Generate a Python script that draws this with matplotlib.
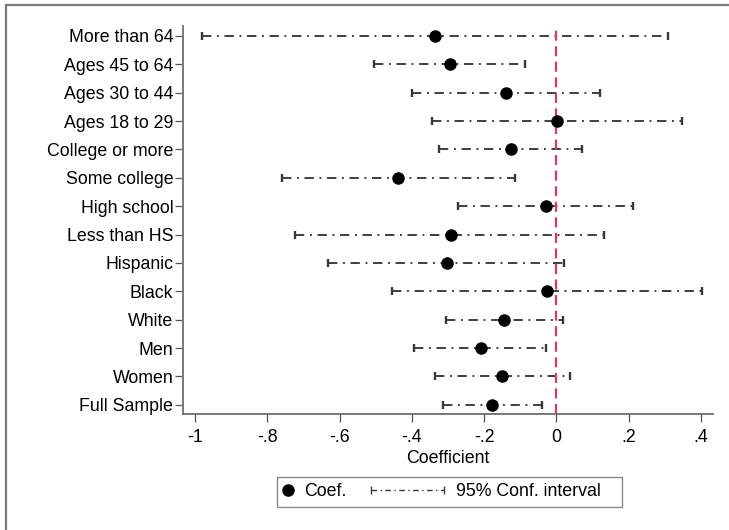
import matplotlib
matplotlib.use("Agg")
import matplotlib.pyplot as plt
from matplotlib.lines import Line2D
from matplotlib.legend_handler import HandlerBase

plt.rcParams['font.family'] = ['Liberation Sans', 'DejaVu Sans']

# subgroup estimates, top to bottom as listed on the axis
groups = ["More than 64", "Ages 45 to 64", "Ages 30 to 44", "Ages 18 to 29",
          "College or more", "Some college", "High school", "Less than HS",
          "Hispanic", "Black", "White", "Men", "Women", "Full Sample"]
coef = [-0.336, -0.295, -0.139, 0.002, -0.126, -0.437, -0.029, -0.293,
        -0.304, -0.025, -0.144, -0.210, -0.150, -0.178]
ci_low = [-0.980, -0.504, -0.399, -0.343, -0.326, -0.760, -0.271, -0.722,
          -0.631, -0.454, -0.306, -0.394, -0.337, -0.314]
ci_high = [0.308, -0.088, 0.121, 0.346, 0.070, -0.114, 0.212, 0.132,
           0.022, 0.403, 0.018, -0.028, 0.037, -0.041]
xticks = [-1, -0.8, -0.6, -0.4, -0.2, 0, 0.2, 0.4]
xticklabels = ["-1", "-.8", "-.6", "-.4", "-.2", "0", ".2", ".4"]

FS = 12.8
ci_color = "#383838"
dash = (0, (5, 3, 1, 3))


class CIHandler(HandlerBase):
    # long dash-dot key with caps, drawn leftwards from the text
    def create_artists(self, legend, orig_handle, xdescent, ydescent,
                       width, height, fontsize, trans):
        x1 = -xdescent + width
        x0 = x1 - 4.1 * fontsize
        y = -ydescent + height / 2
        line = Line2D([x0, x1], [y, y], color=ci_color, lw=1.0,
                      linestyle=(0, (4, 2.5, 1, 2.5)), transform=trans)
        caps = Line2D([x0, x1], [y, y], ls="none", marker="|", ms=6, mew=1.0,
                      color=ci_color, transform=trans)
        return [line, caps]


n = len(groups)
ypos = list(range(n, 0, -1))

fig = plt.figure(figsize=(7.29, 5.30), dpi=100)
ax = fig.add_axes([0.251, 0.219, 0.727, 0.732])

ax.hlines(ypos, ci_low, ci_high, colors=ci_color, linewidth=1.35, linestyles=[dash])
ax.plot(ci_low, ypos, ls="none", marker="|", ms=5.5, mew=1.7, color=ci_color)
ax.plot(ci_high, ypos, ls="none", marker="|", ms=5.5, mew=1.7, color=ci_color)
ax.plot(coef, ypos, ls="none", marker="o", ms=8, color="black", zorder=4)
ax.axvline(0, color="#d63a6a", linewidth=1.6, linestyle=(0, (4.5, 2.5)), zorder=3)

ax.set_xlim(-1.033, 0.433)
ax.set_ylim(0.68, n + 0.35)
ax.set_yticks(ypos)
ax.set_yticklabels(groups)
ax.set_xticks(xticks)
ax.set_xticklabels(xticklabels)
ax.set_xlabel("Coefficient", fontsize=FS, labelpad=3)

for side in ["top", "right"]:
    ax.spines[side].set_visible(False)
for side in ["left", "bottom"]:
    ax.spines[side].set_color("#6e6e6e")
    ax.spines[side].set_linewidth(1.3)
ax.tick_params(axis="y", length=5.5, width=0.9, color="#555555", labelsize=FS, pad=1.5)
ax.tick_params(axis="x", length=6, width=0.9, color="#555555", labelsize=FS, pad=5)

h_coef = Line2D([], [], ls="none", marker="o", ms=8, color="black")
h_ci = Line2D([], [])
leg = fig.legend([h_coef, h_ci], ["Coef.", "95% Conf. interval   "],
                 handler_map={h_ci: CIHandler()},
                 loc="center", bbox_to_anchor=(0.6166, 0.0717), ncol=2,
                 fontsize=FS, frameon=True, fancybox=False, handlelength=0.5,
                 handletextpad=0.65, columnspacing=5.0, borderpad=0.35,
                 borderaxespad=0)
leg.get_frame().set_edgecolor("#6e6e6e")
leg.get_frame().set_linewidth(1.0)

# outer frame: only its left and top edges fall inside the canvas
x0 = 6 / 729
y1 = 1 - 5 / 530
fig.add_artist(Line2D([x0, x0, 1.1], [-0.1, y1, y1], transform=fig.transFigure,
                      color="#7a7a7a", linewidth=1.6, solid_joinstyle="miter"))

fig.savefig("out.png", dpi=100)
